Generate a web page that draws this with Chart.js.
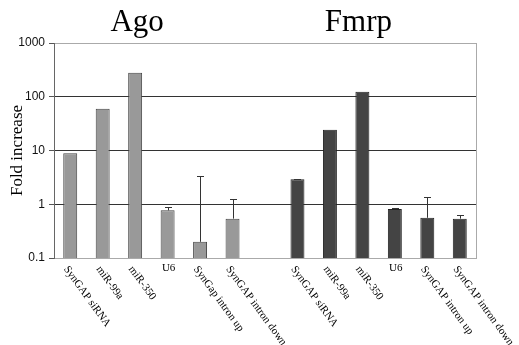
<!DOCTYPE html>
<html><head><meta charset="utf-8">
<script src="https://cdn.jsdelivr.net/npm/chart.js@4/dist/chart.umd.min.js"></script>
<style>html,body{margin:0;padding:0;background:#fff}#wrap{width:519px;height:345px}</style>
</head><body><div id="wrap"><canvas id="c" width="519" height="345"></canvas></div>
<script>
const categories = ["SynGAP siRNA","miR-99a","miR-350","U6","SynGap intron up","SynGAP intron down","",
  "SynGAP siRNA","miR-99a","miR-350","U6","SynGAP intron up","SynGAP intron down"];
const groupTitles = ["Ago","Fmrp"];
const agoValues = [8.9, 60, 280, 0.77, 0.20, 0.54];
const agoErr    = [0, 0, 0, 0.11, 3.1, 0.72];
const fmrpValues = [2.93, 24.4, 124, 0.82, 0.56, 0.54];
const fmrpErr    = [0.05, 0, 0, 0.02, 0.79, 0.10];
const yTicks = [0.1, 1, 10, 100, 1000];

const agoData = categories.map((c,i)=> i < 6 ? agoValues[i] : null);
const fmrpData = categories.map((c,i)=> i >= 7 ? fmrpValues[i-7] : null);
const agoErrData = categories.map((c,i)=> i < 6 ? agoErr[i] : null);
const fmrpErrData = categories.map((c,i)=> i >= 7 ? fmrpErr[i-7] : null);

const extras = {
  id:'extras',
  afterDatasetsDraw(chart){
    const ctx = chart.ctx, y = chart.scales.y;
    ctx.save();
    ctx.strokeStyle = '#333'; ctx.lineWidth = 1;
    chart.data.datasets.forEach((ds, di)=>{
      const meta = chart.getDatasetMeta(di);
      meta.data.forEach((el, i)=>{
        const v = ds.data[i], e = ds.errors[i];
        if (v == null || !e) return;
        const yt = Math.round(y.getPixelForValue(v + e)) + 0.5;
        const yb = el.y;
        const x = Math.round(el.x) + 0.5;
        ctx.beginPath(); ctx.moveTo(x, yb); ctx.lineTo(x, yt);
        ctx.moveTo(x-3.5, yt); ctx.lineTo(x+3.5, yt); ctx.stroke();
      });
    });
    ctx.restore();
  },
  afterDraw(chart){
    const ctx = chart.ctx, x = chart.scales.x, a = chart.chartArea;
    ctx.save();
    ctx.strokeStyle = '#aaa'; ctx.lineWidth = 1;
    ctx.beginPath(); ctx.moveTo(Math.round(a.right)+0.5, a.top); ctx.lineTo(Math.round(a.right)+0.5, a.bottom); ctx.stroke();
    ctx.fillStyle = '#000';
    ctx.font = '31px "Liberation Serif", "Times New Roman", serif';
    ctx.textAlign = 'center'; ctx.textBaseline = 'alphabetic';
    ctx.fillText(groupTitles[0], x.getPixelForValue(2) + 2, 31);
    ctx.fillText(groupTitles[1], x.getPixelForValue(9) - 4, 31);
    ctx.font = '11px "Liberation Serif", "Times New Roman", serif';
    categories.forEach((lab, i)=>{
      if (!lab) return;
      const px = x.getPixelForValue(i);
      if (lab.length <= 2) {
        ctx.textAlign = 'center'; ctx.textBaseline = 'top';
        ctx.fillText(lab, px + 1, a.bottom + 5);
        return;
      }
      ctx.save();
      ctx.translate(px, a.bottom + 6);
      ctx.rotate(54 * Math.PI / 180);
      ctx.textAlign = 'left'; ctx.textBaseline = 'top';
      ctx.fillText(lab, 0, 0);
      ctx.restore();
    });
    ctx.restore();
  }
};

new Chart(document.getElementById('c'), {
  type: 'bar',
  data: {
    labels: categories,
    datasets: [
      {label:'Ago', data: agoData, errors: agoErrData, backgroundColor:'#999999', borderColor:'#444', borderWidth:1, borderSkipped:'bottom'},
      {label:'Fmrp', data: fmrpData, errors: fmrpErrData, backgroundColor:'#444444', borderColor:'#222', borderWidth:1, borderSkipped:'bottom'}
    ]
  },
  options: {
    responsive:false, animation:false, devicePixelRatio:1,
    layout:{padding:{left:0, top:43, right:43, bottom:0}},
    datasets:{bar:{grouped:false, barPercentage:0.43, categoryPercentage:1}},
    plugins:{legend:{display:false}, tooltip:{enabled:false}, title:{display:false}},
    scales:{
      x:{
        ticks:{display:false},
        grid:{display:false},
        border:{color:'#aaa'},
        afterFit(s){ s.height = 87; }
      },
      y:{
        type:'logarithmic', min:0.1, max:1000,
        afterBuildTicks(s){ s.ticks = yTicks.map(v=>({value:v})); },
        ticks:{
          color:'#111', padding:4,
          font:{family:'"Liberation Sans", Arial, sans-serif', size:12},
          callback(v){ return String(v); }
        },
        grid:{
          color(c){ const v = c.tick && c.tick.value; return (v===1000||v===0.1)?'#aaa':'#333'; },
          tickColor:'#555', tickLength:5, drawTicks:true
        },
        border:{color:'#666'},
        title:{display:true, text:'Fold increase', color:'#000',
          font:{family:'"Liberation Serif", "Times New Roman", serif', size:17}, padding:{top:7,bottom:0}},
        afterFit(s){ s.width = 54; }
      }
    }
  },
  plugins:[extras]
});
</script></body></html>
